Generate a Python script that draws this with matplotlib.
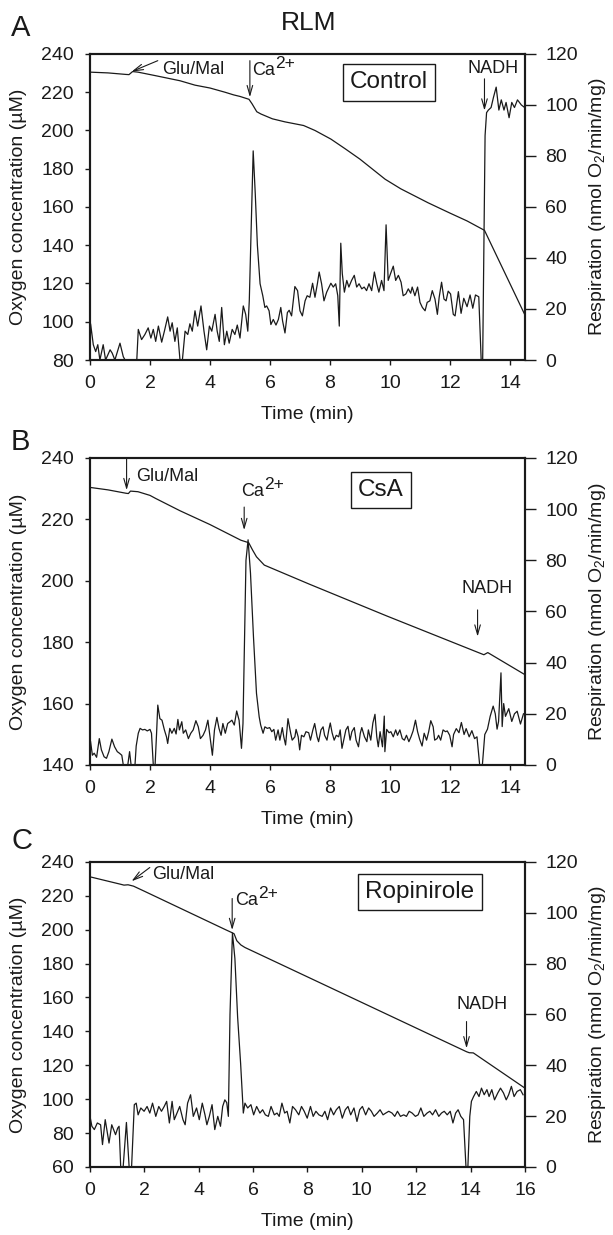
import matplotlib
matplotlib.use("Agg")
import matplotlib.pyplot as plt

plt.rcParams['font.family'] = ['Liberation Sans', 'DejaVu Sans']
plt.rcParams['mathtext.fontset'] = 'custom'
plt.rcParams['mathtext.rm'] = 'Liberation Sans'
plt.rcParams['mathtext.it'] = 'Liberation Sans:italic'

# ---------------- Panel A (Control) ----------------
a_o2_t = [0.0, 0.6, 1.2, 1.3, 1.42, 1.6, 2.2, 3.0, 3.5, 4.0, 4.5, 4.79, 5.0, 5.3, 5.4, 5.56, 5.7,
          6.08, 6.5, 7.12, 7.5, 8.03, 8.5, 9.0, 9.84, 10.36, 11.27, 12.0, 12.57, 13.09, 13.15, 14.5]
a_o2 = [230.5, 230.1, 229.3, 229.2, 230.8, 230.5, 228.6, 226.0, 223.7, 222.2, 220.0, 218.6, 217.8, 216.3,
        214.0, 209.8, 208.6, 206.1, 204.5, 202.6, 200.0, 195.5, 190.5, 185.0, 174.5, 169.5, 162.2, 156.8,
        152.7, 148.3, 147.8, 103.5]
a_r_t = [0.00, 0.02, 0.11, 0.19, 0.26, 0.33, 0.44, 0.52, 0.67, 0.74, 0.83, 1.00, 1.11, 1.17, 1.56,
         1.61, 1.72, 1.83, 1.94, 2.03, 2.11, 2.19, 2.28, 2.39, 2.48, 2.59, 2.67, 2.74, 2.83, 2.91,
         3.00, 3.08, 3.17, 3.26, 3.33, 3.41, 3.50, 3.59, 3.70, 3.80, 3.89, 3.98, 4.06, 4.17, 4.24,
         4.31, 4.39, 4.48, 4.56, 4.64, 4.74, 4.83, 4.91, 5.00, 5.11, 5.19, 5.26, 5.31, 5.37, 5.44,
         5.51, 5.58, 5.67, 5.76, 5.83, 5.89, 5.97, 6.03, 6.11, 6.20, 6.28, 6.36, 6.42, 6.50, 6.58,
         6.64, 6.72, 6.83, 6.92, 7.00, 7.08, 7.17, 7.24, 7.33, 7.42, 7.50, 7.58, 7.64, 7.72, 7.80,
         7.89, 8.03, 8.11, 8.19, 8.26, 8.31, 8.36, 8.41, 8.48, 8.56, 8.63, 8.72, 8.81, 8.89, 8.97,
         9.06, 9.14, 9.22, 9.30, 9.39, 9.48, 9.56, 9.63, 9.72, 9.80, 9.87, 9.94, 10.02, 10.11, 10.19,
         10.28, 10.37, 10.44, 10.53, 10.61, 10.69, 10.74, 10.83, 10.92, 11.00, 11.08, 11.17, 11.24, 11.33, 11.41,
         11.50, 11.58, 11.64, 11.72, 11.80, 11.87, 11.94, 12.02, 12.11, 12.17, 12.28, 12.37, 12.46, 12.57, 12.67,
         12.76, 12.85, 12.96, 13.04, 13.09, 13.17, 13.22, 13.28, 13.37, 13.45, 13.54, 13.63, 13.71, 13.80, 13.87,
         13.97, 14.06, 14.15, 14.25, 14.38, 14.49]
a_r = [0.0, 14.2, 6.0, 3.3, 6.0, 0.0, 6.0, 0.0, 4.0, 2.7, 0.0, 6.6, 1.3, 0.0, 0.0,
       12.0, 8.0, 10.0, 12.6, 8.6, 12.0, 7.3, 13.3, 7.0, 11.3, 16.9, 11.3, 14.6, 7.3, 12.6,
       0.0, 0.0, 11.3, 10.0, 14.2, 11.3, 19.3, 13.3, 21.2, 11.3, 4.0, 13.3, 11.3, 17.9, 11.3,
       7.3, 20.6, 6.0, 11.3, 6.6, 12.0, 10.0, 13.7, 8.6, 21.2, 17.9, 11.3, 23.2, 50.0, 82.0,
       65.0, 45.0, 29.9, 25.2, 20.6, 21.2, 19.3, 13.9, 15.9, 13.7, 15.9, 20.6, 15.3, 10.6, 18.6,
       19.5, 17.3, 28.8, 27.2, 19.3, 17.3, 23.2, 25.2, 24.6, 30.1, 24.6, 29.9, 34.5, 29.9, 23.2,
       26.6, 30.1, 28.6, 29.9, 25.2, 13.3, 45.8, 33.9, 26.6, 31.2, 28.6, 31.2, 33.2, 28.6, 29.9,
       27.9, 28.6, 27.2, 29.9, 27.2, 34.5, 29.9, 26.6, 31.2, 27.2, 53.0, 31.2, 33.9, 36.8, 31.2,
       33.2, 30.5, 25.2, 25.9, 27.9, 26.2, 28.6, 25.2, 28.6, 22.6, 20.6, 19.3, 22.6, 23.2, 27.2,
       23.9, 17.9, 24.6, 30.5, 23.9, 23.2, 27.0, 25.9, 17.9, 17.3, 26.8, 18.3, 24.2, 20.9, 25.5,
       20.3, 25.5, 24.8, 0.0, 0.0, 88.0, 97.0, 98.0, 99.0, 103.0, 107.0, 98.0, 102.0, 98.0, 101.0,
       95.0, 101.0, 99.0, 102.0, 100.0, 99.0]

# ---------------- Panel B (CsA) ----------------
b_o2_t = [0.0, 0.6, 1.2, 1.28, 1.35, 1.6, 2.0, 2.19, 3.0, 4.0, 5.03, 5.29, 5.42, 5.55, 5.81,
          7.31, 9.9, 13.0, 13.13, 13.26, 14.5]
b_o2 = [230.4, 229.6, 228.5, 228.4, 229.2, 229.0, 227.8, 226.8, 222.8, 218.3, 213.2, 212.4, 210.0,
        207.8, 205.1, 198.9, 188.5, 176.4, 175.9, 176.6, 169.4]
b_r_t = [0.02, 0.08, 0.14, 0.22, 0.31, 0.38, 0.47, 0.55, 0.63, 0.73, 0.82, 0.91, 0.98, 1.06, 1.11,
         1.26, 1.32, 1.37, 1.50, 1.54, 1.61, 1.67, 1.75, 1.83, 1.91, 2.00, 2.05, 2.11, 2.17, 2.22,
         2.26, 2.33, 2.40, 2.48, 2.55, 2.59, 2.66, 2.73, 2.81, 2.87, 2.93, 2.98, 3.06, 3.11, 3.19,
         3.28, 3.36, 3.44, 3.53, 3.61, 3.68, 3.77, 3.85, 3.93, 4.01, 4.08, 4.15, 4.23, 4.30, 4.37,
         4.43, 4.51, 4.59, 4.67, 4.73, 4.81, 4.89, 4.97, 5.05, 5.10, 5.20, 5.27, 5.35, 5.45, 5.55,
         5.64, 5.69, 5.77, 5.83, 5.91, 5.99, 6.06, 6.13, 6.19, 6.27, 6.33, 6.41, 6.46, 6.52, 6.60,
         6.69, 6.74, 6.83, 6.87, 6.94, 6.99, 7.05, 7.13, 7.20, 7.29, 7.35, 7.43, 7.49, 7.57, 7.62,
         7.70, 7.77, 7.82, 7.90, 7.96, 8.01, 8.07, 8.14, 8.21, 8.29, 8.34, 8.40, 8.48, 8.53, 8.60,
         8.67, 8.73, 8.81, 8.87, 8.95, 9.01, 9.06, 9.15, 9.23, 9.28, 9.36, 9.43, 9.50, 9.56, 9.61,
         9.67, 9.75, 9.81, 9.83, 9.89, 9.97, 10.03, 10.11, 10.19, 10.25, 10.33, 10.41, 10.48, 10.55,
         10.63, 10.70, 10.77, 10.85, 10.92, 10.99, 11.07, 11.14, 11.22, 11.29, 11.36, 11.44, 11.49,
         11.57, 11.62, 11.69, 11.77, 11.85, 11.91, 11.99, 12.07, 12.12, 12.21, 12.30, 12.38, 12.47,
         12.54, 12.64, 12.73, 12.82, 12.90, 12.99, 13.08, 13.16, 13.25, 13.34, 13.44, 13.51, 13.57,
         13.62, 13.70, 13.74, 13.79, 13.85, 13.96, 14.06, 14.15, 14.24, 14.35, 14.45]
b_r = [9.1, 3.8, 4.6, 3.0, 10.3, 5.9, 3.2, 2.6, 5.2, 10.1, 7.1, 5.2, 4.6, 3.8, 0.0,
       0.0, 5.2, 0.0, 0.0, 7.4, 12.4, 14.3, 13.7, 13.9, 13.3, 13.9, 12.4, 0.0, 0.0, 12.4,
       23.4, 18.1, 17.5, 13.7, 11.0, 8.4, 14.3, 12.4, 14.3, 12.1, 17.8, 13.7, 16.9, 12.4, 13.7,
       10.3, 12.4, 13.7, 17.3, 14.9, 10.3, 11.6, 13.7, 17.5, 10.3, 3.8, 13.7, 18.6, 14.3, 11.6,
       16.2, 12.4, 16.2, 16.9, 17.5, 15.6, 21.1, 17.5, 6.5, 16.2, 80.0, 88.0, 75.0, 50.0, 28.0,
       18.8, 15.6, 12.4, 14.9, 14.3, 14.6, 13.0, 13.9, 9.7, 13.7, 9.7, 14.6, 11.0, 7.8, 18.1,
       12.4, 9.7, 11.0, 13.9, 11.0, 5.9, 11.6, 11.0, 13.0, 12.6, 9.7, 13.7, 16.2, 11.0, 9.1,
       13.7, 14.9, 11.6, 9.7, 13.7, 16.4, 12.6, 9.7, 11.6, 11.0, 13.7, 6.5, 11.0, 13.7, 15.1,
       9.7, 13.0, 14.6, 9.7, 7.1, 12.4, 14.6, 11.0, 9.1, 13.7, 9.7, 16.4, 19.8, 11.0, 7.1,
       13.0, 7.1, 19.1, 5.2, 13.9, 12.6, 13.0, 11.0, 13.7, 11.6, 13.7, 10.3, 9.7, 11.6,
       9.1, 11.0, 13.3, 17.5, 13.0, 10.0, 7.4, 12.4, 9.7, 13.0, 17.3, 14.9, 9.7,
       10.3, 11.6, 9.7, 13.7, 13.0, 13.3, 11.6, 7.1, 11.9, 14.2, 12.6, 16.6, 11.9,
       14.2, 11.0, 13.4, 10.3, 11.0, 0.0, 0.0, 11.9, 14.0, 19.0, 23.0, 20.0, 14.0,
       17.0, 36.0, 15.0, 24.0, 19.0, 22.0, 17.0, 20.0, 21.0, 16.0, 20.0]

# ---------------- Panel C (Ropinirole) ----------------
c_o2_t = [0.0, 1.13, 1.25, 1.4, 1.6, 2.0, 3.0, 4.0, 5.0, 5.23, 5.3, 5.4, 5.55, 5.7, 7.0, 9.0,
          11.0, 13.0, 13.85, 13.95, 14.1, 16.0]
c_o2 = [231.2, 226.8, 226.3, 226.5, 225.7, 222.7, 215.1, 207.5, 199.9, 198.2, 197.6, 193.5, 191.0,
        189.5, 179.7, 164.6, 149.5, 134.4, 128.0, 127.4, 127.3, 106.5]
c_r_t = [0.00, 0.07, 0.16, 0.27, 0.39, 0.46, 0.56, 0.63, 0.70, 0.80, 0.87, 0.94, 1.02, 1.07, 1.13,
         1.22, 1.34, 1.44, 1.53, 1.63, 1.70, 1.77, 1.87, 1.99, 2.10, 2.20, 2.30, 2.42, 2.53, 2.63,
         2.73, 2.82, 2.92, 3.02, 3.10, 3.20, 3.30, 3.42, 3.50, 3.59, 3.70, 3.80, 3.92, 4.02, 4.13,
         4.23, 4.30, 4.39, 4.49, 4.59, 4.70, 4.80, 4.88, 4.96, 5.03, 5.09, 5.15, 5.24, 5.33, 5.43,
         5.54, 5.64, 5.70, 5.80, 5.92, 6.02, 6.13, 6.25, 6.35, 6.45, 6.56, 6.66, 6.78, 6.88, 6.96,
         7.06, 7.16, 7.25, 7.35, 7.45, 7.56, 7.68, 7.78, 7.88, 7.99, 8.11, 8.21, 8.31, 8.42, 8.54,
         8.64, 8.74, 8.85, 8.96, 9.06, 9.17, 9.28, 9.39, 9.49, 9.59, 9.71, 9.82, 9.92, 10.02, 10.14,
         10.25, 10.35, 10.45, 10.57, 10.67, 10.78, 10.88, 10.99, 11.11, 11.21, 11.31, 11.42, 11.54,
         11.64, 11.74, 11.85, 11.97, 12.07, 12.17, 12.28, 12.40, 12.50, 12.60, 12.71, 12.83, 12.93,
         13.03, 13.14, 13.25, 13.35, 13.45, 13.54, 13.64, 13.74, 13.83, 13.90, 13.97, 14.03, 14.11,
         14.21, 14.31, 14.40, 14.50, 14.60, 14.68, 14.78, 14.88, 15.00, 15.10, 15.21, 15.31, 15.40,
         15.50, 15.60, 15.71, 15.83, 15.93]
c_r = [19.9, 16.0, 14.7, 17.3, 16.6, 8.8, 18.6, 14.0, 9.4, 16.6, 14.7, 12.7, 15.3, 16.0, 0.0,
       0.0, 17.5, 0.0, 0.0, 24.5, 25.1, 20.5, 23.2, 21.9, 23.8, 21.2, 25.1, 19.9, 23.8, 21.9,
       23.8, 25.8, 17.3, 25.8, 18.6, 21.2, 23.8, 18.6, 16.6, 25.1, 28.4, 19.9, 23.2, 18.6, 25.1,
       20.5, 16.6, 19.9, 24.5, 14.7, 19.9, 16.0, 23.8, 26.4, 25.3, 19.9, 60.0, 92.0, 82.0, 59.0,
       40.8, 21.2, 25.1, 23.2, 24.5, 20.5, 23.8, 21.2, 22.5, 20.5, 19.9, 23.8, 20.5, 21.2, 19.9,
       25.1, 21.2, 21.9, 17.3, 23.8, 22.5, 20.5, 23.8, 21.9, 19.2, 23.8, 19.9, 21.9, 20.5, 19.9,
       21.9, 18.6, 23.2, 20.5, 22.5, 23.8, 19.2, 22.5, 23.8, 20.5, 23.2, 17.9, 22.5, 23.8, 20.5,
       23.2, 21.9, 19.9, 21.2, 22.5, 20.5, 21.2, 21.9, 21.2, 19.9, 21.9, 19.9, 20.5,
       19.9, 21.9, 21.2, 19.9, 20.5, 23.2, 19.9, 21.2, 21.9, 20.5, 22.5, 19.9, 21.2,
       21.9, 20.5, 21.9, 17.3, 21.2, 22.5, 19.9, 18.6, 0.0, 0.0, 19.9, 25.8, 27.7,
       29.7, 27.7, 31.0, 28.4, 30.4, 27.7, 30.4, 26.4, 29.1, 31.0, 29.1, 26.4, 28.4,
       31.7, 27.7, 29.7, 30.4, 28.4]

panels = [
    dict(letter='A', label='Control', t_o2=a_o2_t, o2=a_o2, t_r=a_r_t, r=a_r,
         xlim=(0, 14.5), xticks=range(0, 15, 2), ylim=(80, 240), yticks=range(80, 241, 20),
         rect=[0.1468, 0.7085, 0.7096, 0.2478], letter_y=0.977,
         box=(9.97, 225.2),
         ann=[('Glu/Mal', (1.39, 230.8), (2.26, 236.5), (2.4, 232.0)),
              ('Ca', (5.33, 217.4), (5.33, 236.5), (5.42, 231.5)),
              ('NADH', (13.15, 210.4), (13.15, 227.0), (13.44, 232.5))]),
    dict(letter='B', label='CsA', t_o2=b_o2_t, o2=b_o2, t_r=b_r_t, r=b_r,
         xlim=(0, 14.5), xticks=range(0, 15, 2), ylim=(140, 240), yticks=range(140, 241, 20),
         rect=[0.1468, 0.3806, 0.7096, 0.2486], letter_y=0.642,
         box=(9.69, 229.5),
         ann=[('Glu/Mal', (1.22, 229.5), (1.22, 240.0), (1.54, 234.0)),
              ('Ca', (5.14, 216.5), (5.14, 224.0), (5.05, 229.0)),
              ('NADH', (12.92, 181.8), (12.92, 190.5), (13.22, 197.5))]),
    dict(letter='C', label='Ropinirole', t_o2=c_o2_t, o2=c_o2, t_r=c_r_t, r=c_r,
         xlim=(0, 16), xticks=range(0, 17, 2), ylim=(60, 240), yticks=range(60, 241, 20),
         rect=[0.1468, 0.0551, 0.7096, 0.2470], letter_y=0.319,
         box=(12.14, 222.3),
         ann=[('Glu/Mal', (1.53, 228.6), (2.2, 236.7), (2.27, 232.7)),
              ('Ca', (5.23, 199.8), (5.23, 218.4), (5.35, 217.0)),
              ('NADH', (13.85, 130.0), (13.85, 145.8), (14.43, 156.0))]),
]

fig = plt.figure(figsize=(6.13, 12.35), dpi=100)
lc = '#1a1a1a'
fs = 14

for p in panels:
    ax = fig.add_axes(p['rect'])
    ax2 = ax.twinx()
    ax.plot(p['t_o2'], p['o2'], color=lc, lw=0.9, zorder=3)
    ax2.plot(p['t_r'], p['r'], color=lc, lw=0.9)
    ax.set_xlim(*p['xlim'])
    ax.set_ylim(*p['ylim'])
    ax2.set_ylim(0, 120)
    ax.set_xticks(list(p['xticks']))
    ax.set_yticks(list(p['yticks']))
    ax2.set_yticks(range(0, 121, 20))
    ax.tick_params(axis='x', direction='out', length=3.5, width=1, labelsize=fs, colors=lc, pad=7.5)
    ax.tick_params(axis='y', direction='out', length=3.5, width=1, labelsize=fs, colors=lc, pad=8)
    ax2.tick_params(axis='y', direction='out', length=8, width=1, labelsize=fs, colors=lc, pad=6.5)
    for a in (ax, ax2):
        for s in a.spines.values():
            s.set_linewidth(1.5)
            s.set_color(lc)
    ax.set_zorder(ax2.get_zorder() + 1)
    ax.patch.set_visible(False)
    ax.set_xlabel('Time (min)', fontsize=fs, labelpad=10, color=lc)
    ax.set_ylabel('Oxygen concentration (\u00b5M)', fontsize=fs, labelpad=10, color=lc)
    ax2.set_ylabel('Respiration (nmol O$_2$/min/mg)', fontsize=fs, labelpad=6.5, color=lc)
    ax.text(p['box'][0], p['box'][1], p['label'], fontsize=17.5, ha='center', va='center', color=lc,
            bbox=dict(boxstyle='square,pad=0.3', fc='white', ec=lc, lw=1.0), zorder=5)
    for txt, tip, tail, tpos in p['ann']:
        ax.annotate('', xy=tip, xytext=tail,
                    arrowprops=dict(arrowstyle='->,head_length=0.7,head_width=0.2', color=lc, lw=0.8,
                                    shrinkA=0, shrinkB=0))
        ax.text(tpos[0], tpos[1], txt, fontsize=13, ha='left' if txt != 'NADH' else 'center',
                va='center', color=lc)
        if txt == 'Ca':
            ax.annotate('2+', xy=tpos, xytext=(16.5, 5), textcoords='offset points',
                        fontsize=12.5, ha='left', va='center', color=lc)
    fig.text(0.018, p['letter_y'], p['letter'], fontsize=21, ha='left', va='center', color=lc)

fig.text(0.503, 0.9814, 'RLM', fontsize=19, ha='center', va='center', color=lc)

fig.savefig('out.png', dpi=100)
